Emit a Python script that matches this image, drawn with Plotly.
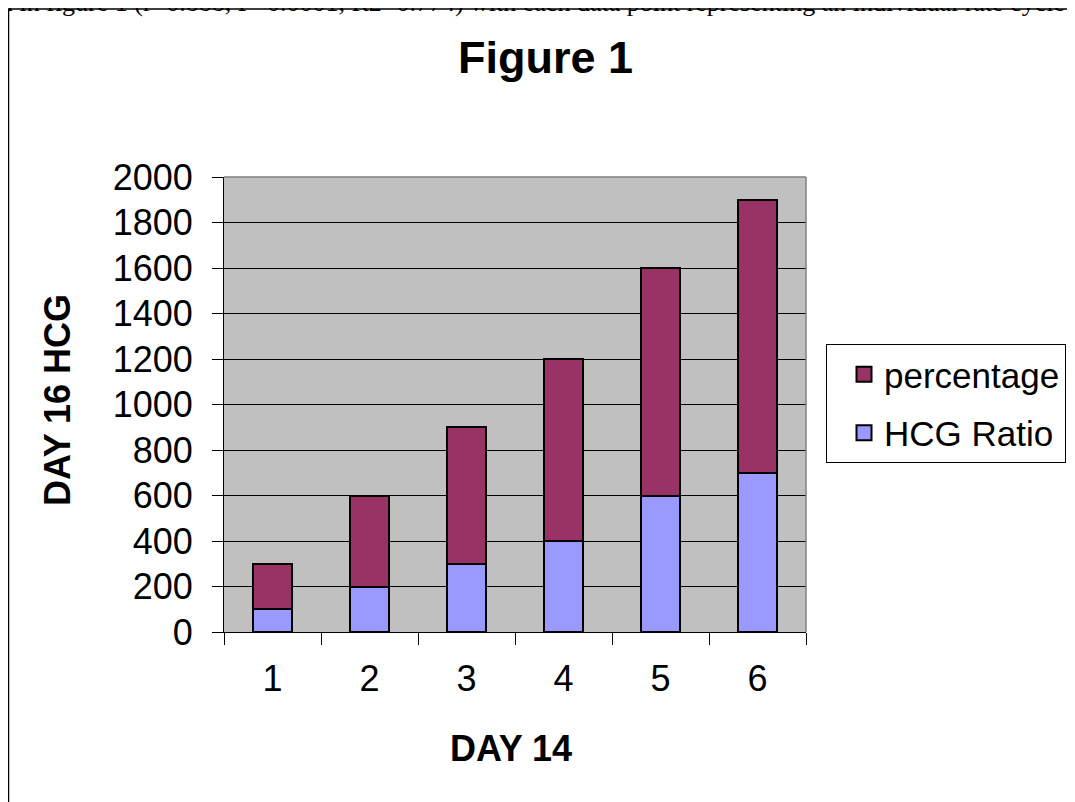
import plotly.graph_objects as go

# data
day14 = ["1", "2", "3", "4", "5", "6"]
hcg_ratio = [100, 200, 300, 400, 600, 700]
percentage = [200, 400, 600, 800, 1000, 1200]

FONT = "Arial, Liberation Sans, sans-serif"
BLUE = "#9999FF"
PLUM = "#993366"

fig = go.Figure()
fig.add_trace(go.Bar(x=day14, y=hcg_ratio, name="HCG Ratio", showlegend=False,
                     marker=dict(color=BLUE, line=dict(color="black", width=2))))
fig.add_trace(go.Bar(x=day14, y=percentage, name="percentage", showlegend=False,
                     marker=dict(color=PLUM, line=dict(color="black", width=2))))

# legend-only entries so the squares can be sized like the original
for name, col in [("percentage", PLUM), ("HCG Ratio", BLUE)]:
    fig.add_trace(go.Scatter(x=[None], y=[None], mode="markers", name=name,
                             legendgroup=name,
                             marker=dict(symbol="square", size=15, color=col,
                                         line=dict(color="black", width=2))))

# plot area in page px: x 224..806, y 177..632 (page body has an 8px margin)
def px_x(p):
    return (p - 224) / 582

def px_y(p):
    return (632 - p) / 455

fig.update_layout(
    barmode="stack",
    bargap=0.6,
    width=1075, height=802,
    margin=dict(l=216, r=277, t=169, b=178),
    plot_bgcolor="#C0C0C0",
    paper_bgcolor="white",
    font=dict(family=FONT, size=36, color="black"),
    showlegend=True,
    legend=dict(x=px_x(826), y=px_y(344), xanchor="left", yanchor="top",
                traceorder="grouped", tracegroupgap=10,
                bordercolor="black", borderwidth=1, indentation=17,
                font=dict(size=35), itemwidth=30, entrywidth=280),
    xaxis=dict(type="category", tickson="boundaries", ticks="outside", ticklen=12,
               tickcolor="black", showline=True, linecolor="black", linewidth=1,
               showgrid=False, ticklabelstandoff=15),
    yaxis=dict(range=[0, 2000], dtick=200, ticks="outside", ticklen=11,
               tickcolor="black", showline=True, linecolor="black", linewidth=1,
               gridcolor="black", gridwidth=1, zeroline=False, ticklabelstandoff=12),
)

# titles
fig.add_annotation(text="<b>Figure 1</b>", xref="paper", yref="paper",
                   x=px_x(545), y=px_y(57), xanchor="center", yanchor="middle",
                   showarrow=False, font=dict(size=45))
fig.add_annotation(text="<b>DAY 14</b>", xref="paper", yref="paper",
                   x=px_x(511), y=px_y(748), xanchor="center", yanchor="middle",
                   showarrow=False, font=dict(size=36))
fig.add_annotation(text="<b>DAY 16 HCG</b>", xref="paper", yref="paper",
                   x=px_x(57), y=px_y(400), xanchor="center", yanchor="middle",
                   textangle=-90, showarrow=False, font=dict(size=36))

# grey border on top/right of the plot area
fig.add_shape(type="line", xref="paper", yref="paper", x0=0, x1=1, y0=1, y1=1,
              line=dict(color="#808080", width=1.5))
fig.add_shape(type="line", xref="paper", yref="paper", x0=1, x1=1, y0=0, y1=1,
              line=dict(color="#808080", width=1.5))

# outer chart frame (cropped by the page edge)
fig.add_shape(type="rect", xref="paper", yref="paper",
              x0=px_x(8.5), x1=px_x(1100), y0=px_y(830), y1=px_y(9),
              line=dict(color="black", width=1.5), fillcolor="rgba(0,0,0,0)")

# cropped line of body text at the very top
fig.add_annotation(text="n in figure 1 (r=0.888, P<0.0001, R2=0.774) with each data point representing an individual rate cycle",
                   xref="paper", yref="paper", x=px_x(-2), y=px_y(2),
                   xanchor="left", yanchor="middle", showarrow=False,
                   font=dict(family="Times New Roman, Liberation Serif, serif", size=26))

fig.write_html("out.html")
